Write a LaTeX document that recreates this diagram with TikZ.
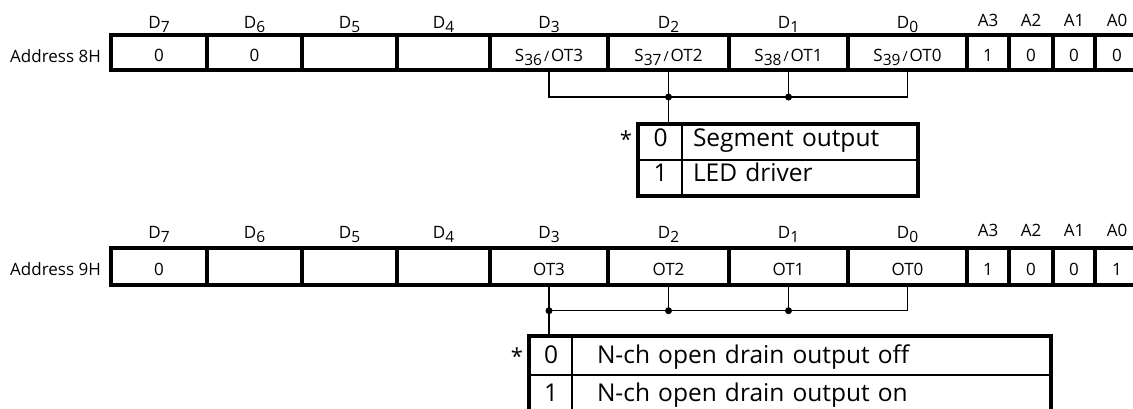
\documentclass[tikz,border=0pt]{standalone}
\usepackage{fontspec}
\setmainfont{Open Sans}
\newfontfamily\tabfamily[WordSpace=1.8]{Open Sans}
\newcommand\regfont{\fontsize{17}{20}\selectfont}
\newcommand\tabfont{\tabfamily\fontsize{24.5}{28}\selectfont}
\newcommand\lowsub[1]{\raisebox{-4pt}{\fontsize{15.5}{16}\selectfont #1}}
\newcommand\myslash{\hspace{2pt}{\fontsize{14}{15}\selectfont/}\hspace{2pt}}
\begin{document}
\begin{tikzpicture}[x=1pt,y=-1pt,
  reg/.style={draw, line width=3.6pt, inner sep=0pt, text height=18pt, text depth=0pt, font=\regfont},
  rowA/.style={reg, minimum height=35pt},
  rowB/.style={reg, minimum height=37pt},
  lab/.style={anchor=base, inner sep=0pt, font=\regfont},
  conn/.style={line width=1.5pt},
  dot/.style={circle, fill, inner sep=0pt, minimum size=7pt},
  tcell/.style={draw, line width=1.5pt, inner sep=0pt, font=\tabfont},
  t1/.style={tcell, minimum height=35pt, text height=14pt, text depth=6pt},
  t2/.style={tcell, minimum height=38pt, text height=16pt, text depth=2pt},
  star/.style={inner sep=0pt, font=\fontsize{22}{24}\selectfont}
]
\clip (0,0) rectangle (1133,408);

% ---------------- Address 8H ----------------
\node[rowA, minimum width=96pt]  (r1c7) at (159,52.5)   {0};
\node[rowA, minimum width=95pt]  (r1c6) at (254.5,52.5) {0};
\node[rowA, minimum width=95pt]  (r1c5) at (349.5,52.5) {};
\node[rowA, minimum width=93pt]  (r1c4) at (443.5,52.5) {};
\node[rowA, minimum width=118pt] (r1c3) at (549,52.5)   {S\lowsub{36}\myslash OT3};
\node[rowA, minimum width=121pt] (r1c2) at (668.5,52.5) {S\lowsub{37}\myslash OT2};
\node[rowA, minimum width=119pt] (r1c1) at (788.5,52.5) {S\lowsub{38}\myslash OT1};
\node[rowA, minimum width=119pt] (r1c0) at (907.5,52.5) {S\lowsub{39}\myslash OT0};
\node[rowA, minimum width=42pt]  (r1a3) at (988,52.5)   {1};
\node[rowA, minimum width=44pt]  (r1a2) at (1031,52.5)  {0};
\node[rowA, minimum width=42pt]  (r1a1) at (1074,52.5)  {0};
\node[rowA, minimum width=44pt]  (r1a0) at (1117,52.5)  {0};
\node[lab, anchor=base east] (r1name) at (101,62) {Address 8H};

\coordinate (d1base) at (0,28);
\coordinate (a1base) at (0,26);
\foreach \n/\s in {c7/7,c6/6,c5/5,c4/4,c3/3,c2/2,c1/1,c0/0}
  \node[lab] (r1l\n) at (r1\n.center |- d1base) {D\lowsub{\s}};
\foreach \n/\t in {a3/A3,a2/A2,a1/A1,a0/A0}
  \node[lab] (r1l\n) at (r1\n.center |- a1base) {\t};

% table 1
\node[t1, minimum width=43pt] (t1v0) at (660.5,142.5) {0};
\node[t1, minimum width=235pt, text width=213pt, inner xsep=11pt, align=left] (t1d0) at (799.5,142.5) {Segment output};
\node[t1, minimum width=43pt] (t1v1) at (660.5,177.5) {1};
\node[t1, minimum width=235pt, text width=213pt, inner xsep=11pt, align=left] (t1d1) at (799.5,177.5) {LED driver};
\draw[line width=3.6pt] (t1v0.north west) rectangle (t1d1.south east);
\node[star, anchor=base east] (t1star) at ([xshift=-6pt,yshift=-5pt]t1v0.west) {*};

% connectors 1
\coordinate (bus1) at (0,97);
\node[dot] (j12) at (r1c2.south |- bus1) {};
\node[dot] (j11) at (r1c1.south |- bus1) {};
\draw[conn] (r1c3.south) |- (j12.center) -- (j11.center) -| (r1c0.south);
\draw[conn] (r1c2.south) -- (j12.center);
\draw[conn] (r1c1.south) -- (j11.center);
\draw[conn] (j12.center) -- (j12.center |- t1v0.north);

% ---------------- Address 9H ----------------
\node[rowB, minimum width=96pt]  (r2c7) at (159,266.5)   {0};
\node[rowB, minimum width=95pt]  (r2c6) at (254.5,266.5) {};
\node[rowB, minimum width=95pt]  (r2c5) at (349.5,266.5) {};
\node[rowB, minimum width=93pt]  (r2c4) at (443.5,266.5) {};
\node[rowB, minimum width=118pt] (r2c3) at (549,266.5)   {OT3};
\node[rowB, minimum width=121pt] (r2c2) at (668.5,266.5) {OT2};
\node[rowB, minimum width=119pt] (r2c1) at (788.5,266.5) {OT1};
\node[rowB, minimum width=119pt] (r2c0) at (907.5,266.5) {OT0};
\node[rowB, minimum width=42pt]  (r2a3) at (988,266.5)   {1};
\node[rowB, minimum width=44pt]  (r2a2) at (1031,266.5)  {0};
\node[rowB, minimum width=42pt]  (r2a1) at (1074,266.5)  {0};
\node[rowB, minimum width=44pt]  (r2a0) at (1117,266.5)  {1};
\node[lab, anchor=base east] (r2name) at (101,275) {Address 9H};

\coordinate (d2base) at (0,238);
\coordinate (a2base) at (0,236);
\foreach \n/\s in {c7/7,c6/6,c5/5,c4/4,c3/3,c2/2,c1/1,c0/0}
  \node[lab] (r2l\n) at (r2\n.center |- d2base) {D\lowsub{\s}};
\foreach \n/\t in {a3/A3,a2/A2,a1/A1,a0/A0}
  \node[lab] (r2l\n) at (r2\n.center |- a2base) {\t};

% table 2
\node[t2, minimum width=42pt] (t2v0) at (551,356) {0};
\node[t2, minimum width=478pt, text width=428pt, inner xsep=25pt, align=left] (t2d0) at (811,356) {N-ch open drain output off};
\node[t2, minimum width=42pt] (t2v1) at (551,394) {1};
\node[t2, minimum width=478pt, text width=428pt, inner xsep=25pt, align=left] (t2d1) at (811,394) {N-ch open drain output on};
\draw[line width=3.6pt] (t2v0.north west) rectangle (t2d1.south east);
\node[star, anchor=base east] (t2star) at ([xshift=-6pt,yshift=-8pt]t2v0.west) {*};

% connectors 2
\coordinate (bus2) at (0,310.7);
\node[dot] (j23) at (r2c3.south |- bus2) {};
\node[dot] (j22) at (r2c2.south |- bus2) {};
\node[dot] (j21) at (r2c1.south |- bus2) {};
\draw[conn] (r2c3.south) -- (j23.center) -- (j22.center) -- (j21.center) -| (r2c0.south);
\draw[conn] (r2c2.south) -- (j22.center);
\draw[conn] (r2c1.south) -- (j21.center);
\draw[conn] (j23.center) -- (j23.center |- t2v0.north);
\end{tikzpicture}
\end{document}
